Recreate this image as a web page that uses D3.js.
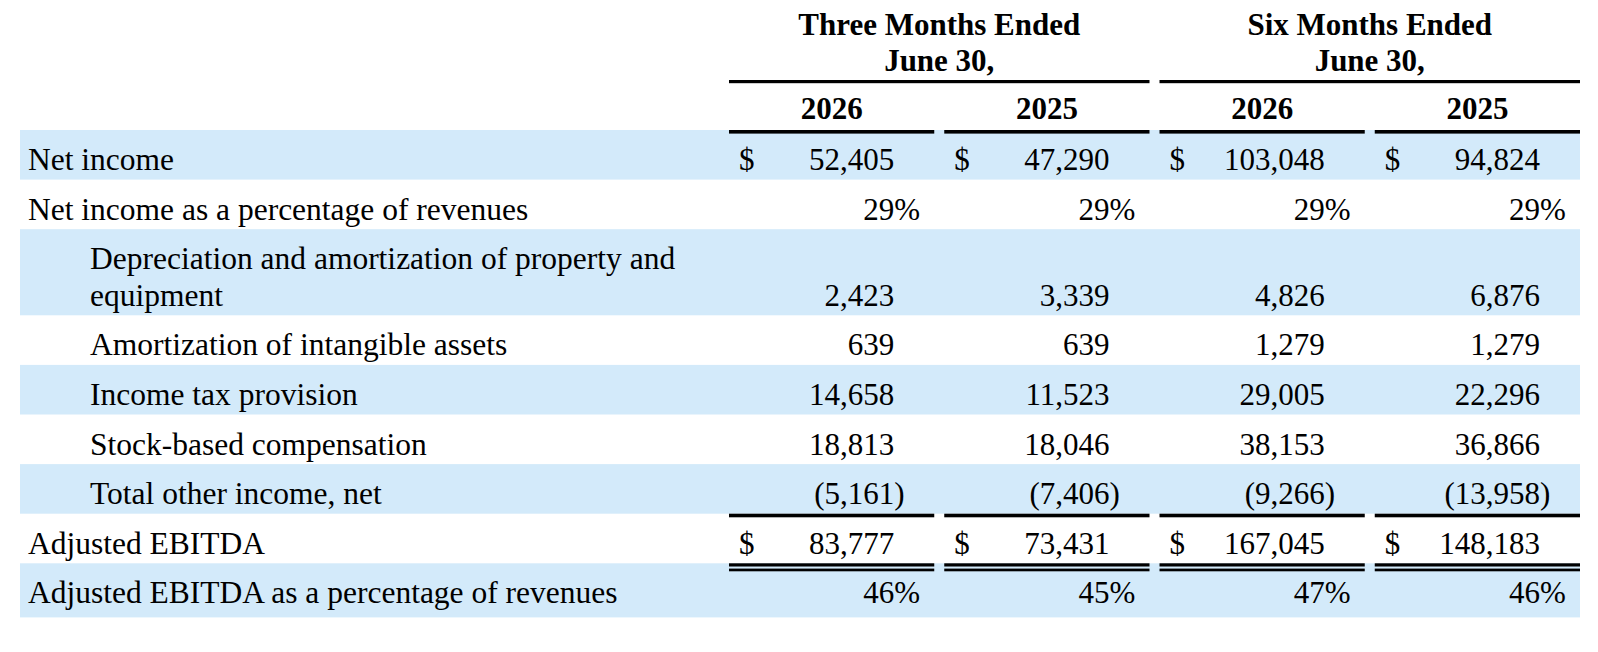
<!DOCTYPE html>
<html>
<head>
<meta charset="utf-8">
<script src="https://cdn.jsdelivr.net/npm/d3@7"></script>
<style>
  html, body { margin: 0; padding: 0; background: #ffffff; }
  svg { display: block; }
  text { font-family: "Liberation Serif", "Times New Roman", serif; fill: #000; }
</style>
</head>
<body>
<svg id="chart" width="1598" height="652"></svg>
<script>
// ---- data ----
const groupHeaders = [["Three Months Ended", "June 30,"], ["Six Months Ended", "June 30,"]];
const columns = ["2026", "2025", "2026 ", "2025 "];
const columnGroup = [0, 0, 1, 1];
const rowLabels = [
  ["Net income"],
  ["Net income as a percentage of revenues"],
  ["Depreciation and amortization of property and", "equipment"],
  ["Amortization of intangible assets"],
  ["Income tax provision"],
  ["Stock-based compensation"],
  ["Total other income, net"],
  ["Adjusted EBITDA"],
  ["Adjusted EBITDA as a percentage of revenues"]
];
const rowIndent = [0, 0, 1, 1, 1, 1, 1, 0, 0];
const rowKind = ["dollar", "pct", "num", "num", "num", "num", "num", "dollar", "pct"];
const threeMonths2026 = [52405, 0.29, 2423, 639, 14658, 18813, -5161, 83777, 0.46];
const threeMonths2025 = [47290, 0.29, 3339, 639, 11523, 18046, -7406, 73431, 0.45];
const sixMonths2026 = [103048, 0.29, 4826, 1279, 29005, 38153, -9266, 167045, 0.47];
const sixMonths2025 = [94824, 0.29, 6876, 1279, 22296, 36866, -13958, 148183, 0.46];
const seriesValues = [threeMonths2026, threeMonths2025, sixMonths2026, sixMonths2025];

// ---- layout ----
const svg = d3.select("#chart");
const FS = 31;
const LFS = 31.5;
const shade = "#d3eafa";
const tableLeft = 20, tableRight = 1580;
const tableTop = 130;
const lineStep = 36.5;

const x = d3.scaleBand().domain(columns).range([729, tableRight])
  .paddingInner(10 / 215.25).paddingOuter(0);

// row geometry
const rowHeights = rowLabels.map((l, i) => 49.6 + lineStep * (l.length - 1) + (i === rowLabels.length - 1 ? 4.5 : 0));
const rowTops = [];
rowHeights.reduce((acc, h) => { rowTops.push(acc); return acc + h; }, tableTop);
const y = d3.scaleOrdinal().domain(d3.range(rowLabels.length)).range(rowTops);

// shaded rows
svg.append("g").selectAll("rect")
  .data(d3.range(rowLabels.length).filter(i => i % 2 === 0))
  .join("rect")
  .attr("x", tableLeft).attr("width", tableRight - tableLeft)
  .attr("y", i => y(i)).attr("height", i => rowHeights[i])
  .attr("fill", shade);

// group headers
const groupExtent = g => {
  const cols = columns.filter((c, i) => columnGroup[i] === g);
  return [x(cols[0]), x(cols[cols.length - 1]) + x.bandwidth()];
};
groupHeaders.forEach((lines, g) => {
  const [a, b] = groupExtent(g);
  lines.forEach((t, k) => {
    svg.append("text").attr("x", (a + b) / 2).attr("y", 35 + k * 36)
      .attr("text-anchor", "middle").attr("font-weight", "bold").attr("font-size", FS)
      .text(t);
  });
  svg.append("rect").attr("x", a).attr("width", b - a).attr("y", 80).attr("height", 3.2).attr("fill", "#000");
});

// column headers
columns.forEach(c => {
  svg.append("text").attr("x", x(c) + x.bandwidth() / 2).attr("y", 119)
    .attr("text-anchor", "middle").attr("font-weight", "bold").attr("font-size", FS)
    .text(c.trim());
  svg.append("rect").attr("x", x(c)).attr("width", x.bandwidth()).attr("y", 130).attr("height", 3.6).attr("fill", "#000");
});

// row labels
rowLabels.forEach((lines, i) => {
  lines.forEach((t, k) => {
    svg.append("text")
      .attr("x", rowIndent[i] ? 90 : 28)
      .attr("y", y(i) + 40 + k * lineStep)
      .attr("font-size", LFS)
      .text(t);
  });
});

// values
const fmtNum = d3.format(",");
const fmtPct = d3.format(".0f");
columns.forEach((c, ci) => {
  const right = x(c) + x.bandwidth() - 40;
  const left = x(c) + 10;
  seriesValues[ci].forEach((v, i) => {
    const base = y(i) + 40 + lineStep * (rowLabels[i].length - 1);
    let main, suffix = "";
    if (rowKind[i] === "pct") { main = fmtPct(v * 100); suffix = "%"; }
    else if (v < 0) { main = "(" + fmtNum(-v); suffix = ")"; }
    else { main = fmtNum(v); }
    svg.append("text").attr("x", right).attr("y", base).attr("text-anchor", "end")
      .attr("font-size", FS).text(main);
    if (suffix) {
      svg.append("text").attr("x", right).attr("y", base).attr("text-anchor", "start")
        .attr("font-size", FS).text(suffix);
    }
    if (rowKind[i] === "dollar") {
      svg.append("text").attr("x", left).attr("y", base).attr("font-size", FS).text("$");
    }
  });
  // single rule under "Total other income, net"
  svg.append("rect").attr("x", x(c)).attr("width", x.bandwidth())
    .attr("y", y(7)).attr("height", 3.6).attr("fill", "#000");
  // double rule under "Adjusted EBITDA"
  svg.append("rect").attr("x", x(c)).attr("width", x.bandwidth())
    .attr("y", y(8)).attr("height", 3.2).attr("fill", "#000");
  svg.append("rect").attr("x", x(c)).attr("width", x.bandwidth())
    .attr("y", y(8) + 5.3).attr("height", 2.7).attr("fill", "#000");
});
</script>
</body>
</html>
